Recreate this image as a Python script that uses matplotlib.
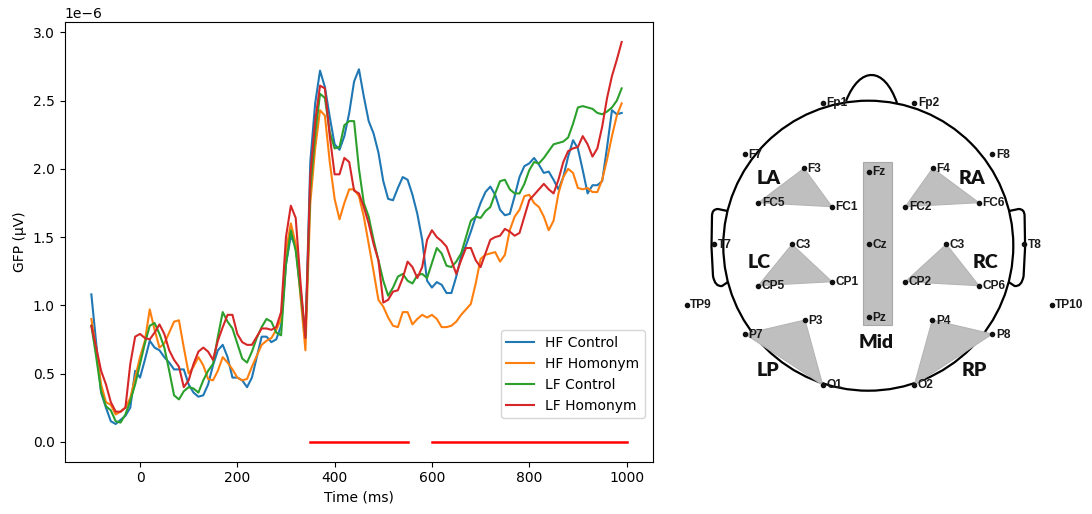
import numpy as np
import matplotlib.pyplot as plt
from matplotlib.patches import Circle, Polygon, Rectangle, PathPatch
from matplotlib.path import Path

# GFP curves, in microvolts, one value every 10 ms from -100 to 990 ms
times = np.arange(-100, 1000, 10)

hf_control = [
    1.08, 0.72, 0.36, 0.25, 0.15, 0.13, 0.16, 0.19, 0.25, 0.52,
    0.47, 0.60, 0.74, 0.69, 0.67, 0.62, 0.58, 0.53, 0.53, 0.53,
    0.42, 0.36, 0.33, 0.34, 0.42, 0.56, 0.67, 0.71, 0.62, 0.47,
    0.47, 0.45, 0.40, 0.47, 0.62, 0.77, 0.77, 0.73, 0.75, 0.85,
    1.30, 1.51, 1.43, 1.11, 0.77, 2.05, 2.48, 2.72, 2.60, 2.38,
    2.18, 2.14, 2.24, 2.41, 2.64, 2.73, 2.53, 2.35, 2.26, 2.12,
    1.91, 1.78, 1.77, 1.86, 1.94, 1.92, 1.81, 1.67, 1.48, 1.18,
    1.13, 1.17, 1.15, 1.09, 1.09, 1.21, 1.36, 1.44, 1.54, 1.65,
    1.75, 1.83, 1.87, 1.81, 1.70, 1.66, 1.67, 1.80, 1.94, 2.02,
    2.04, 2.08, 2.03, 1.97, 1.98, 1.92, 1.85, 1.94, 2.09, 2.21,
    2.15, 1.99, 1.82, 1.88, 1.88, 1.91, 2.16, 2.43, 2.40, 2.41,
]
hf_homonym = [
    0.90, 0.67, 0.42, 0.29, 0.27, 0.20, 0.22, 0.25, 0.32, 0.47,
    0.62, 0.74, 0.97, 0.82, 0.69, 0.72, 0.80, 0.88, 0.89, 0.69,
    0.50, 0.55, 0.62, 0.56, 0.46, 0.45, 0.52, 0.62, 0.58, 0.53,
    0.47, 0.45, 0.46, 0.55, 0.63, 0.71, 0.74, 0.76, 0.82, 0.90,
    1.40, 1.60, 1.45, 1.06, 0.67, 1.75, 2.15, 2.43, 2.39, 2.05,
    1.78, 1.63, 1.75, 1.85, 1.85, 1.80, 1.65, 1.45, 1.25, 1.04,
    0.99, 0.91, 0.85, 0.84, 0.95, 0.95, 0.86, 0.90, 0.93, 0.91,
    0.93, 0.90, 0.84, 0.84, 0.85, 0.88, 0.93, 0.97, 1.01, 1.16,
    1.34, 1.37, 1.38, 1.39, 1.32, 1.37, 1.55, 1.65, 1.70, 1.80,
    1.81, 1.75, 1.72, 1.65, 1.55, 1.62, 1.82, 1.94, 2.00, 1.97,
    1.86, 1.85, 1.86, 1.83, 1.83, 1.92, 2.07, 2.24, 2.39, 2.48,
]
lf_control = [
    0.85, 0.62, 0.37, 0.26, 0.23, 0.15, 0.14, 0.20, 0.30, 0.42,
    0.57, 0.72, 0.85, 0.87, 0.79, 0.69, 0.52, 0.34, 0.31, 0.37,
    0.40, 0.39, 0.36, 0.45, 0.52, 0.57, 0.77, 0.95, 0.88, 0.83,
    0.72, 0.61, 0.58, 0.66, 0.76, 0.84, 0.90, 0.88, 0.80, 0.78,
    1.30, 1.55, 1.40, 1.09, 0.77, 1.85, 2.25, 2.55, 2.52, 2.27,
    2.15, 2.16, 2.32, 2.35, 2.35, 2.00, 1.75, 1.65, 1.48, 1.33,
    1.18, 1.07, 1.13, 1.21, 1.23, 1.18, 1.16, 1.22, 1.23, 1.20,
    1.31, 1.42, 1.38, 1.29, 1.28, 1.32, 1.38, 1.50, 1.62, 1.65,
    1.64, 1.69, 1.72, 1.82, 1.91, 1.92, 1.85, 1.82, 1.82, 1.89,
    1.99, 2.05, 2.04, 2.08, 2.13, 2.18, 2.19, 2.20, 2.23, 2.33,
    2.45, 2.46, 2.45, 2.44, 2.41, 2.40, 2.42, 2.45, 2.50, 2.59,
]
lf_homonym = [
    0.85, 0.69, 0.52, 0.42, 0.29, 0.22, 0.22, 0.25, 0.57, 0.77,
    0.79, 0.76, 0.75, 0.80, 0.86, 0.79, 0.67, 0.60, 0.55, 0.40,
    0.45, 0.57, 0.66, 0.69, 0.66, 0.60, 0.74, 0.84, 0.93, 0.93,
    0.79, 0.73, 0.71, 0.71, 0.77, 0.83, 0.83, 0.82, 0.84, 0.95,
    1.50, 1.73, 1.64, 1.16, 0.76, 1.95, 2.35, 2.61, 2.59, 2.24,
    1.96, 1.96, 2.08, 2.05, 1.84, 1.82, 1.72, 1.60, 1.45, 1.33,
    1.02, 1.04, 1.10, 1.11, 1.20, 1.32, 1.28, 1.20, 1.28, 1.48,
    1.55, 1.50, 1.47, 1.43, 1.33, 1.23, 1.33, 1.42, 1.42, 1.33,
    1.28, 1.38, 1.48, 1.50, 1.51, 1.56, 1.54, 1.51, 1.53, 1.65,
    1.77, 1.81, 1.85, 1.89, 1.85, 1.82, 1.92, 2.05, 2.13, 2.15,
    2.16, 2.24, 2.18, 2.09, 2.15, 2.31, 2.52, 2.68, 2.80, 2.93,
]
series_names = ["HF Control", "HF Homonym", "LF Control", "LF Homonym"]
sig_windows = [(350, 550), (600, 1000)]

# electrode layout (image pixel coords of the head sketch)
electrodes = {
    "Fp1": (822.7, 102.7), "Fp2": (914.3, 102.7),
    "F7": (745.0, 154.3), "F8": (992.3, 154.3),
    "F3": (804.0, 168.3), "Fz": (869.0, 171.7), "F4": (932.7, 168.3),
    "FC5": (758.3, 202.7), "FC1": (832.0, 206.7),
    "FC2": (905.3, 206.7), "FC6": (979.0, 202.7),
    "T7": (714.0, 244.3), "C3": (792.0, 244.3), "Cz": (869.0, 244.3),
    "C4": (946.3, 244.3), "T8": (1024.0, 244.3),
    "CP5": (758.3, 285.7), "CP1": (832.0, 281.7),
    "CP2": (905.3, 281.7), "CP6": (979.0, 285.7),
    "TP9": (686.7, 305.0), "TP10": (1051.7, 305.0),
    "P7": (745.0, 334.0), "P3": (805.0, 320.0), "Pz": (869.0, 317.3),
    "P4": (932.3, 320.0), "P8": (992.3, 334.0),
    "O1": (822.7, 385.0), "O2": (914.3, 385.0),
}
# the figure labels C4 as "C3"
shown_names = {"C4": "C3"}

regions = {
    "LA": ["F3", "FC5", "FC1"], "RA": ["F4", "FC2", "FC6"],
    "LC": ["C3", "CP5", "CP1"], "RC": ["C4", "CP2", "CP6"],
    "LP": ["P7", "P3", "O1"], "RP": ["P4", "P8", "O2"],
}
region_labels = {
    "LA": (769, 178), "RA": (972, 178), "LC": (759, 263), "RC": (986, 263),
    "LP": (768, 370), "RP": (974, 370), "Mid": (876, 342),
}

fig = plt.figure(figsize=(10.92, 5.14), dpi=100)

# ---- left: GFP time course ----
ax = fig.add_axes([64.6 / 1092, 52.3 / 514, 588.7 / 1092, 439.7 / 514])
for vals, name in zip([hf_control, hf_homonym, lf_control, lf_homonym], series_names):
    ax.plot(times, np.array(vals) * 1e-6, label=name, lw=1.5)
for t0, t1 in sig_windows:
    ax.plot([t0, t1], [0, 0], color="red", lw=1.8)
ax.set_xlabel("Time (ms)")
ax.set_ylabel("GFP (μV)")
ax.set_xticks([0, 200, 400, 600, 800, 1000])
ax.legend(loc="lower right", bbox_to_anchor=(0.986, 0.099), borderaxespad=0)

# ---- right: electrode map ----
hx = fig.add_axes([660 / 1092, 0, 432 / 1092, 1])
hx.set_xlim(660, 1092)
hx.set_ylim(514, 0)
hx.axis("off")

cx, cy, r = 868.3, 245.7, 145
hx.add_patch(Circle((cx, cy), r, fill=False, lw=1.6, color="black", zorder=2))

nose = Path([(846, 101), (860, 66), (884, 66), (897, 103)],
            [Path.MOVETO, Path.CURVE4, Path.CURVE4, Path.CURVE4])
hx.add_patch(PathPatch(nose, fill=False, lw=1.6, color="black", zorder=2))

ear_pts = [(727.5, 211), (718, 209), (712, 209), (712, 216), (711.5, 247),
           (713, 276), (715, 287), (722, 286), (728, 282)]
ear_codes = [Path.MOVETO, Path.LINETO, Path.CURVE3, Path.CURVE3, Path.LINETO,
             Path.LINETO, Path.CURVE3, Path.CURVE3, Path.LINETO]
hx.add_patch(PathPatch(Path(ear_pts, ear_codes), fill=False, lw=1.6, color="black", zorder=2))
ear_r = [(2 * cx - x, y) for x, y in ear_pts]
hx.add_patch(PathPatch(Path(ear_r, ear_codes), fill=False, lw=1.6, color="black", zorder=2))

hx.add_patch(Rectangle((862.7, 162.3), 29, 162.7, facecolor="#bfbfbf",
                       edgecolor="#a8a8a8", lw=0.8, zorder=1))
for reg, names in regions.items():
    pts = [electrodes[n] for n in names]
    hx.add_patch(Polygon(pts, closed=True, facecolor="#bfbfbf",
                         edgecolor="#b5b5b5", lw=0.8, zorder=3))

for name, (x, y) in electrodes.items():
    hx.plot(x, y, "o", color="#111111", ms=3, zorder=4)
    hx.text(x + 3.5, y + 0.5, shown_names.get(name, name), fontsize=8.6,
            fontweight="bold", family="Liberation Sans", color="#1a1a1a",
            ha="left", va="center", zorder=5)

for lab, (x, y) in region_labels.items():
    hx.text(x, y, lab, fontsize=14, fontweight="heavy", family="Lato",
            color="#111111", ha="center", va="center", zorder=5)

fig.savefig("out.png", dpi=100)
